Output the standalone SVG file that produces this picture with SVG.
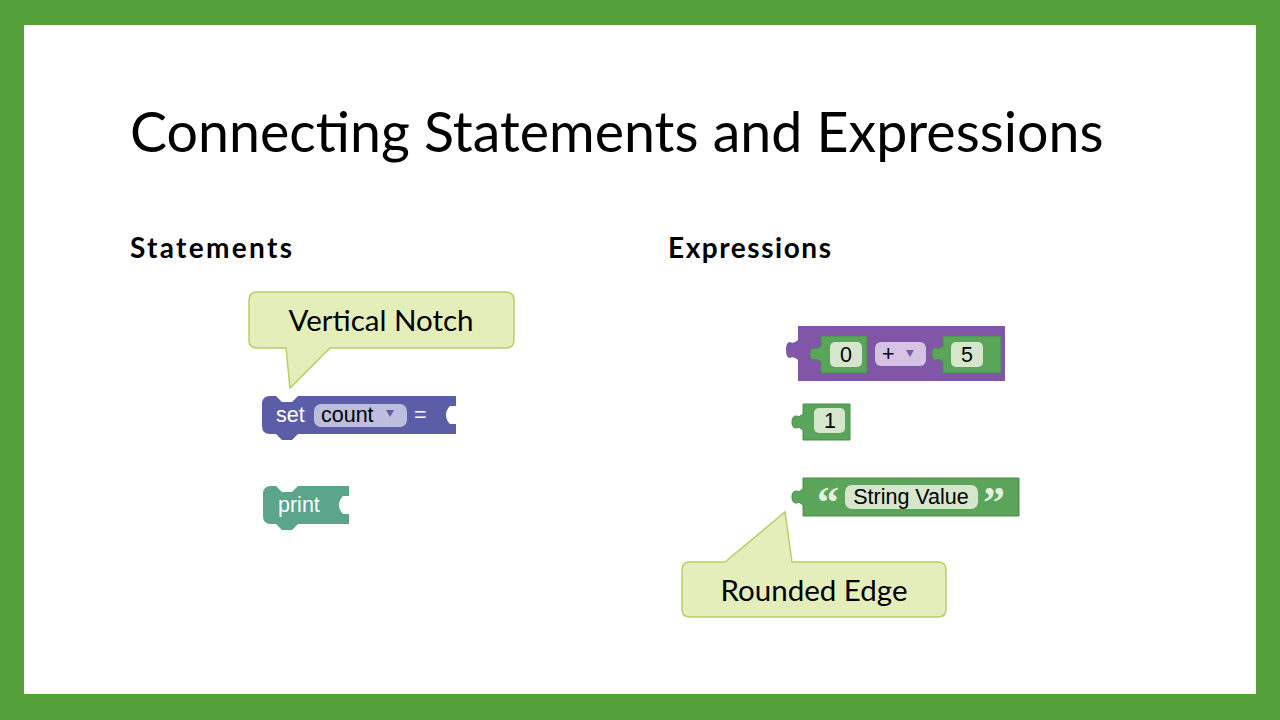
<svg xmlns="http://www.w3.org/2000/svg" width="1280" height="720" viewBox="0 0 1280 720">
<style>
.t{font-family:Lato,"Open Sans",sans-serif;fill:#000}
.b{font-family:"Liberation Sans",Arial,sans-serif;font-size:21.5px}
.w{fill:#fff}
.call{fill:#E3EEBA;stroke:#B5D064;stroke-width:1.5}
.fld{fill:#D6E6CC}
.g{fill:#5BA55B;stroke:#4A8A4A;stroke-width:1}
.q{font-family:"Liberation Serif",serif;font-size:44px;font-weight:bold;fill:#E6F0DE}
</style>
<rect width="1280" height="720" fill="#539F3A"/>
<rect x="24" y="25" width="1232" height="669" fill="#fff"/>
<text class="t" x="130" y="152" font-size="55.5">Connecting Statements and Expressions</text>
<text class="t" x="130" y="258" font-size="28" font-weight="bold" textLength="162">Statements</text>
<text class="t" x="668" y="258" font-size="28" font-weight="bold" textLength="163">Expressions</text>

<g id="callout-vertical-notch">
<path class="call" d="M257,292 H506 Q514,292 514,300 V340 Q514,348 506,348 H330 L290,388 L286,348 H257 Q249,348 249,340 V300 Q249,292 257,292 Z"/>
<text class="t" x="381" y="331" font-size="29.5" text-anchor="middle">Vertical Notch</text>
</g>

<g id="set-block">
<path d="M270,396 H276 L282,402 H292 L298,396 H456 V406 H450 Q446,410 446,415 Q446,420 450,424 H456 V434 H298 L292,440 H282 L276,434 H270 Q262,434 262,426 V404 Q262,396 270,396 Z" fill="#5B5EA6"/>
<text class="b w" x="276" y="422">set</text>
<rect x="314" y="404" width="93" height="23" rx="7" fill="#BDBEDD"/>
<text class="b" x="321" y="422">count</text>
<path d="M386,410 h8 l-4,7 z" fill="#5B5EA6"/>
<text class="b w" x="414" y="422">=</text>
</g>

<g id="print-block">
<path d="M271,486 H276 L282,492 H292 L298,486 H349 V496 H343 Q339,500 339,505 Q339,510 343,514 H349 V524 H298 L292,530 H282 L276,524 H271 Q263,524 263,516 V494 Q263,486 271,486 Z" fill="#5BA58C"/>
<text class="b w" x="278" y="512">print</text>
</g>

<g id="add-block">
<path d="M798,326 H1005 V381 H798 V360 Q794,356 790,358 Q786,358 786,350 Q786,342 790,342 Q794,344 798,340 Z" fill="#8156A8"/>
<path class="g" d="M821,336 H867 V373 H821 V362 Q817,358 814,360 Q810,360 810,354 Q810,348 814,348 Q817,350 821,346 Z"/>
<rect class="fld" x="830" y="342" width="32" height="25" rx="5"/>
<text class="b" x="846" y="362" text-anchor="middle">0</text>
<rect x="875" y="342" width="51" height="24" rx="6" fill="#D4C3E5"/>
<text class="b" x="882" y="361">+</text>
<path d="M906,350 h8 l-4,7 z" fill="#8156A8"/>
<path class="g" d="M943,336 H1001 V373 H943 V362 Q939,358 936,360 Q932,360 932,354 Q932,348 936,348 Q939,350 943,346 Z"/>
<rect class="fld" x="951" y="342" width="32" height="25" rx="5"/>
<text class="b" x="967" y="362" text-anchor="middle">5</text>
</g>

<g id="num-block">
<path class="g" d="M803,404 H850 V440 H803 V430 Q799,426 796,428 Q792,428 792,422 Q792,416 796,416 Q799,418 803,414 Z"/>
<rect class="fld" x="814" y="408" width="31" height="25" rx="5"/>
<text class="b" x="830" y="428" text-anchor="middle">1</text>
</g>

<g id="string-block">
<path class="g" d="M803,478 H1019 V516 H803 V505 Q799,501 796,503 Q792,503 792,497 Q792,491 796,491 Q799,493 803,489 Z"/>
<text class="q" x="828" y="517" text-anchor="middle">“</text>
<rect class="fld" x="845" y="485" width="133" height="24" rx="7"/>
<text class="b" x="911" y="504" text-anchor="middle">String Value</text>
<text class="q" x="994" y="517" text-anchor="middle">”</text>
</g>

<g id="callout-rounded-edge">
<path class="call" d="M690,562 H725 L785,512 L792,562 H938 Q946,562 946,570 V609 Q946,617 938,617 H690 Q682,617 682,609 V570 Q682,562 690,562 Z"/>
<text class="t" x="814" y="601" font-size="29.5" text-anchor="middle">Rounded Edge</text>
</g>
<g id="connectors"/>
</svg>
